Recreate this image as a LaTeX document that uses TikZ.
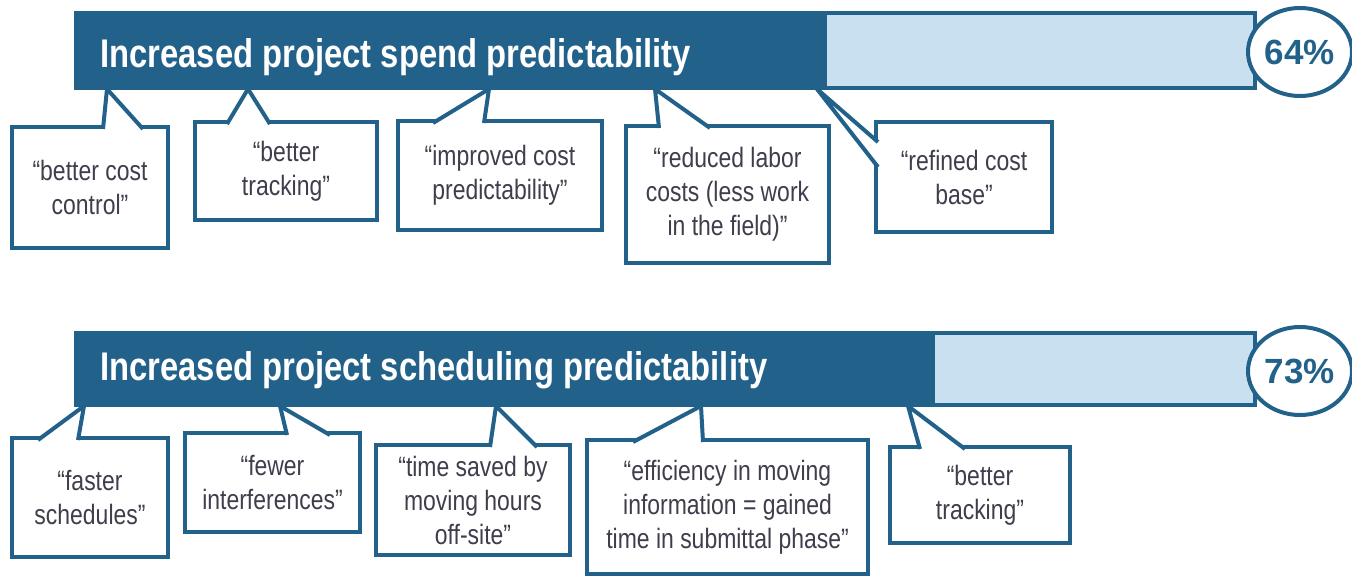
\documentclass[tikz,border=0pt]{standalone}
\usepackage{fontspec}
\setmainfont{Liberation Sans}
\newfontfamily\narrowfont[FakeStretch=0.82]{Liberation Sans}
\usepackage{tikz}
\usetikzlibrary{calc,positioning,shapes.geometric}

\definecolor{barblue}{RGB}{34,97,137}
\definecolor{barlight}{RGB}{200,224,240}
\definecolor{quotegray}{RGB}{62,62,76}

\begin{document}
\begin{tikzpicture}[x=1pt,y=-1pt,
    scorebar/.style={draw=barblue,line width=4.5pt,fill=barlight,inner sep=0pt,outer sep=0pt,anchor=north west,minimum width=1179pt},
    bartitle/.style={text=white,font=\narrowfont\bfseries\fontsize{40}{48}\selectfont,anchor=base west,inner sep=0pt},
    pct/.style={ellipse,draw=barblue,line width=4pt,fill=white,minimum width=104pt,minimum height=88pt,inner sep=0pt,text=barblue,font=\bfseries\fontsize{35}{42}\selectfont},
    quotebox/.style={draw=barblue,line width=4pt,fill=white,inner sep=0pt,outer sep=0pt,align=center,text=quotegray,font=\narrowfont\fontsize{28}{34}\selectfont},
    ptr/.style={draw=barblue,line width=4pt,fill=white,line join=miter}]
  \useasboundingbox (0,0) rectangle (1352,576);

  % spend predictability
  \node[scorebar,minimum height=75pt] (spend) at (76,13) {};
  \fill[barblue] (spend.north west) rectangle (827,88);
  \node[bartitle] (spendtitle) at (100,67) {Increased project spend predictability};
  \node[pct] (spendpct) at (1300,52) {64\%};

  \node[quotebox,minimum width=156pt,minimum height=121pt] (costctl) at (90,187.5) {“better cost\\control”};
  \coordinate (costctltip) at (107,89);
  \draw[ptr] ([xshift=91pt,yshift=-2pt]costctl.north west) -- (costctltip) -- ([xshift=131pt,yshift=-2pt]costctl.north west);

  \node[quotebox,minimum width=182pt,minimum height=98pt] (spendtrack) at (286,171) {“better\\tracking”};
  \coordinate (spendtracktip) at (248,89);
  \draw[ptr] ([xshift=32pt,yshift=-2pt]spendtrack.north west) -- (spendtracktip) -- ([xshift=75pt,yshift=-2pt]spendtrack.north west);

  \node[quotebox,minimum width=204pt,minimum height=109pt] (costpred) at (500,175.5) {“improved cost\\predictability”};
  \coordinate (costpredtip) at (489,89);
  \draw[ptr] ([xshift=35pt,yshift=-2pt]costpred.north west) -- (costpredtip) -- ([xshift=86pt,yshift=-2pt]costpred.north west);

  \node[quotebox,minimum width=203pt,minimum height=137pt] (laborcost) at (727.5,194.5) {“reduced labor\\costs (less work\\in the field)”};
  \coordinate (laborcosttip) at (655,89);
  \draw[ptr] ([xshift=33pt,yshift=-2pt]laborcost.north west) -- (laborcosttip) -- ([xshift=84pt,yshift=-2pt]laborcost.north west);

  \node[quotebox,minimum width=176pt,minimum height=110pt] (costbase) at (964,177) {“refined cost\\base”};
  \coordinate (costbasetip) at (817,89);
  \draw[ptr] ([xshift=2pt,yshift=-20pt]costbase.north west) -- (costbasetip) -- ([xshift=2pt,yshift=-45pt]costbase.north west);

  % scheduling predictability
  \node[scorebar,minimum height=72pt] (sched) at (76,333) {};
  \fill[barblue] (sched.north west) rectangle (935,405);
  \node[bartitle] (schedtitle) at (100,380) {Increased project scheduling predictability};
  \node[pct] (schedpct) at (1300,371) {73\%};

  \node[quotebox,minimum width=156pt,minimum height=119pt] (fastsched) at (90,497.5) {“faster\\schedules”};
  \coordinate (fastschedtip) at (84,406);
  \draw[ptr] ([xshift=26pt,yshift=-2pt]fastsched.north west) -- (fastschedtip) -- ([xshift=66pt,yshift=-2pt]fastsched.north west);

  \node[quotebox,minimum width=175pt,minimum height=99pt] (fewerint) at (272.5,482.5) {“fewer\\interferences”};
  \coordinate (fewerinttip) at (280,406);
  \draw[ptr] ([xshift=102pt,yshift=-2pt]fewerint.north west) -- (fewerinttip) -- ([xshift=145pt,yshift=-2pt]fewerint.north west);

  \node[quotebox,minimum width=194pt,minimum height=110pt] (offsite) at (473,500) {“time saved by\\moving hours\\off-site”};
  \coordinate (offsitetip) at (496,406);
  \draw[ptr] ([xshift=114pt,yshift=-2pt]offsite.north west) -- (offsitetip) -- ([xshift=161pt,yshift=-2pt]offsite.north west);

  \node[quotebox,minimum width=281pt,minimum height=134pt] (infoflow) at (727.5,507) {“efficiency in moving\\information = gained\\time in submittal phase”};
  \coordinate (infoflowtip) at (701,406);
  \draw[ptr] ([xshift=46pt,yshift=-2pt]infoflow.north west) -- (infoflowtip) -- ([xshift=116pt,yshift=-2pt]infoflow.north west);

  \node[quotebox,minimum width=180pt,minimum height=96pt] (schedtrack) at (980,495) {“better\\tracking”};
  \coordinate (schedtracktip) at (908,406);
  \draw[ptr] ([xshift=30pt,yshift=-2pt]schedtrack.north west) -- (schedtracktip) -- ([xshift=75pt,yshift=-2pt]schedtrack.north west);
\end{tikzpicture}
\end{document}
